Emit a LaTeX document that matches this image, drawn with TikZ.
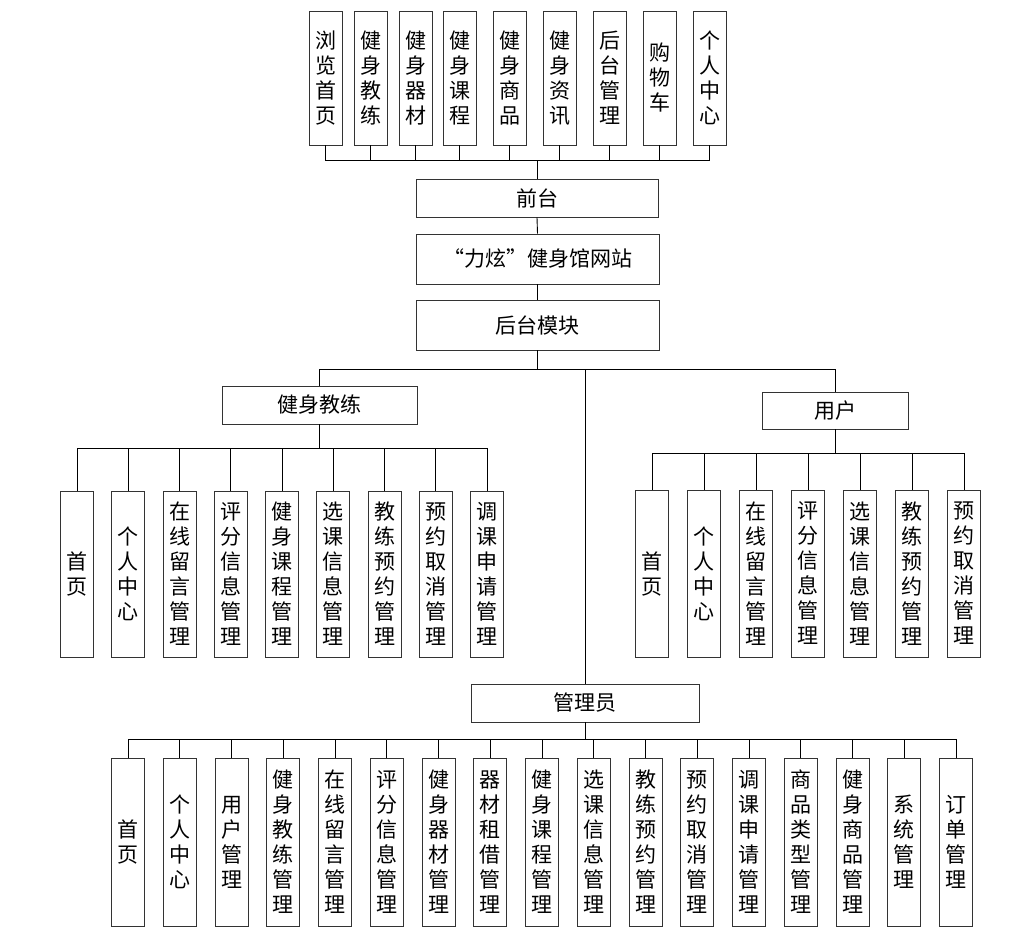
\documentclass[tikz,border=0pt]{standalone}
\usepackage{fontspec}
\setmainfont{Noto Sans CJK SC}
\usetikzlibrary{positioning}
\tikzset{
    wide box/.style={
        draw=black!80,line width=.9pt,
        fill=white,inner sep=0pt,
        font=\fontsize{21pt}{25pt}\selectfont
    },
    tall box/.style={
        wide box,align=center,
        minimum width=33pt
    },
    link/.style={draw=black,line width=.9pt}
}

\begin{document}
\begin{tikzpicture}[x=1pt,y=-1pt]
\useasboundingbox (0,0) rectangle (1024,938);
% top level
\node[wide box,minimum width=242pt,minimum height=38pt] (front) at (537,198) {前台};
\node[wide box,minimum width=243pt,minimum height=50pt] (site) at (537.5,259) {“力炫”健身馆网站};
\node[wide box,minimum width=243pt,minimum height=50pt] (back) at (537.5,325) {后台模块};
\draw[link] (front.south) -- (site.north);
\draw[link] (site.south) -- (back.north);
% front pages
\draw[link] (front.north) -- ++(0,-18) coordinate (front_hub);
\foreach \i/\x/\name in {0/325.5/{浏\\览\\首\\页},1/370.5/{健\\身\\教\\练},
    2/415.5/{健\\身\\器\\材},3/459.5/{健\\身\\课\\程},4/509.5/{健\\身\\商\\品},
    5/559.5/{健\\身\\资\\讯},6/609.5/{后\\台\\管\\理},7/659.5/{购\\物\\车},
    8/709.5/{个\\人\\中\\心}}{
    \node[tall box,minimum height=134pt] (front_\i) at (\x,78) {\name};
    \draw[link] (front_\i.south) |- (front_hub);
}
% roles
\node[wide box,minimum width=195pt,minimum height=38pt] (coach) at (319.5,405) {健身教练};
\node[wide box,minimum width=146pt,minimum height=37pt] (user) at (835,410.5) {用户};
\node[wide box,minimum width=228pt,minimum height=38pt] (admin) at (585,703) {管理员};
\draw[link] (back.south) -- ++(0,19) coordinate (back_hub);
\draw[link] (coach.north) |- (back_hub) -| (user.north);
\draw[link] (admin.north) |- (back_hub);
% coach
\draw[link] (coach.south) -- ++(0,24) coordinate (coach_hub);
\foreach \i/\name in {0/{首\\页},1/{个\\人\\中\\心},2/{在\\线\\留\\言\\管\\理},
    3/{评\\分\\信\\息\\管\\理},4/{健\\身\\课\\程\\管\\理},5/{选\\课\\信\\息\\管\\理},
    6/{教\\练\\预\\约\\管\\理},7/{预\\约\\取\\消\\管\\理},8/{调\\课\\申\\请\\管\\理}}{
    \node[tall box,minimum height=166pt] (coach_\i) at (77+51.25*\i,574) {\name};
    \draw[link] (coach_\i.north) |- (coach_hub);
}
% user
\draw[link] (user.south) -- ++(0,24) coordinate (user_hub);
\foreach \i/\name in {0/{首\\页},1/{个\\人\\中\\心},2/{在\\线\\留\\言\\管\\理},
    3/{评\\分\\信\\息\\管\\理},4/{选\\课\\信\\息\\管\\理},
    5/{教\\练\\预\\约\\管\\理},6/{预\\约\\取\\消\\管\\理}}{
    \node[tall box,minimum height=167pt] (user_\i) at (652+52*\i,573.5) {\name};
    \draw[link] (user_\i.north) |- (user_hub);
}
% admin
\draw[link] (admin.south) -- ++(0,17) coordinate (admin_hub);
\foreach \i/\name in {0/{首\\页},1/{个\\人\\中\\心},2/{用\\户\\管\\理},
    3/{健\\身\\教\\练\\管\\理},4/{在\\线\\留\\言\\管\\理},5/{评\\分\\信\\息\\管\\理},
    6/{健\\身\\器\\材\\管\\理},7/{器\\材\\租\\借\\管\\理},8/{健\\身\\课\\程\\管\\理},
    9/{选\\课\\信\\息\\管\\理},10/{教\\练\\预\\约\\管\\理},11/{预\\约\\取\\消\\管\\理},
    12/{调\\课\\申\\请\\管\\理},13/{商\\品\\类\\型\\管\\理},14/{健\\身\\商\\品\\管\\理},
    15/{系\\统\\管\\理},16/{订\\单\\管\\理}}{
    \node[tall box,minimum height=168pt] (admin_\i) at (128+51.75*\i,842) {\name};
    \draw[link] (admin_\i.north) |- (admin_hub);
}
\end{tikzpicture}
\end{document}
